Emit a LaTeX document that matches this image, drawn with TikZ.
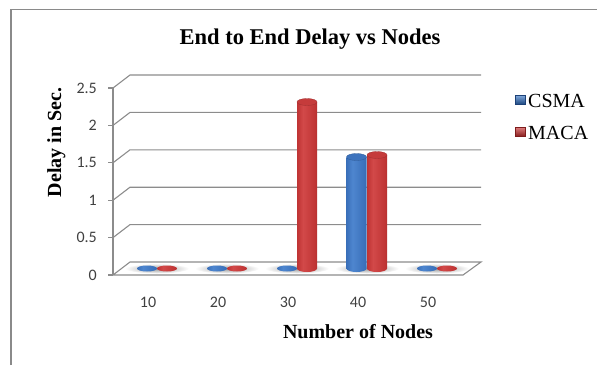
\documentclass[tikz,border=0pt]{standalone}
\usepackage{fontspec}
\setmainfont{Liberation Serif}
\newfontfamily\tickfont{Carlito}

\definecolor{framegray}{HTML}{8A8A8A}
\definecolor{gridgray}{HTML}{8C8C8C}
\definecolor{ticktext}{HTML}{404040}
\definecolor{cbA}{HTML}{1F4A82}
\definecolor{cbB}{HTML}{3A70BA}
\definecolor{cbC}{HTML}{4E86CF}
\definecolor{cbD}{HTML}{1C4177}
\definecolor{crA}{HTML}{8A2020}
\definecolor{crB}{HTML}{BF3434}
\definecolor{crC}{HTML}{D24949}
\definecolor{crD}{HTML}{7E1C1C}
\definecolor{cbtop}{HTML}{3D73BD}
\definecolor{crtop}{HTML}{C53B3B}

\pgfdeclarehorizontalshading{bluecyl}{100bp}{color(0bp)=(cbA); color(25bp)=(cbB); color(40bp)=(cbC); color(70bp)=(cbB); color(100bp)=(cbD)}
\pgfdeclarehorizontalshading{redcyl}{100bp}{color(0bp)=(crA); color(25bp)=(crB); color(40bp)=(crC); color(70bp)=(crB); color(100bp)=(crD)}

% cylinder bar: centre x, top y, shading, top colour
\newcommand\barcyl[4]{%
  \shade[shading=#3] (#1-10,#2) -- (#1-10,268.5)
    arc[start angle=180,end angle=0,x radius=10,y radius=3.5] -- (#1+10,#2) -- cycle;
  \fill[#4] (#1,#2) ellipse [x radius=10,y radius=3.5];
  \draw[#4!80!black,line width=0.3pt] (#1,#2) ellipse [x radius=10,y radius=3.5];}
% flat disc for a zero value
\newcommand\flatdisc[2]{%
  \shade[shading=#2] (#1,268.5) ellipse [x radius=10,y radius=3];}
% soft floor shadow under a pair of bars
\newcommand\floorshadow[1]{%
  \shade[inner color=black!40,outer color=white] (#1,268.5) ellipse [x radius=32,y radius=5];}

\begin{document}
\begin{tikzpicture}[x=1pt,y=-1pt,
  grid/.style={draw=gridgray,line width=1.1pt},
  ticklab/.style={font=\tickfont\fontsize{16}{16}\selectfont,text=ticktext,inner sep=0pt},
  axtitle/.style={font=\bfseries\fontsize{20}{20}\selectfont,inner sep=0pt},
  legtext/.style={font=\fontsize{20}{20}\selectfont,inner sep=0pt,anchor=base west}]
\useasboundingbox (0,0) rectangle (597,365);

% chart frame (left and top edges)
\draw[framegray,line width=1.1pt] (11,365) -- (11,9.5) -- (597,9.5);

% title
\node[font=\bfseries\fontsize{22.5}{22.5}\selectfont,inner sep=0pt,anchor=base] (title) at (310,44) {End to End Delay vs Nodes};

% back wall gridlines and ticks
\foreach \v/\lab in {0.5/0.5,1/1,1.5/1.5,2/2,2.5/2.5}{
  \pgfmathsetmacro\yy{275-74.8*\v}
  \draw[grid] (113,\yy) -- (130,\yy-13) -- (481,\yy-13);
  \draw[grid] (108,\yy) -- (113,\yy);
  \node[ticklab,anchor=east] (ytick\lab) at (97,\yy) {\lab};
}
\draw[grid] (108,275) -- (113,275);
\node[ticklab,anchor=east] (ytick0) at (97,275) {0};

% floor
\draw[grid,line join=miter] (113,275) -- (463,275) -- (481,262) -- (130,262) -- cycle;
% vertical axis
\draw[grid] (113,88) -- (113,275);

% category labels
\foreach \c [count=\i] in {10,20,30,40,50}{
  \node[ticklab] (xtick\c) at (78+70*\i,302) {\c};
}

% shadows on the floor
\foreach \i in {1,...,5}{ \floorshadow{87+70*\i} }

% data: CSMA (blue) and MACA (red)
\flatdisc{147}{bluecyl}\flatdisc{167}{redcyl}
\flatdisc{217}{bluecyl}\flatdisc{237}{redcyl}
\flatdisc{287}{bluecyl}
\barcyl{307}{102}{redcyl}{crtop}
\barcyl{356.5}{157}{bluecyl}{cbtop}
\barcyl{377}{155}{redcyl}{crtop}
\flatdisc{427}{bluecyl}\flatdisc{447}{redcyl}

% axis titles
\node[axtitle,rotate=90,anchor=base] (ytitle) at (61,142.5) {Delay in Sec.};
\node[axtitle,anchor=base] (xtitle) at (358,338) {Number of Nodes};

% legend
\shade[top color=cbC!70!white,bottom color=cbA,draw=cbD,line width=0.3pt] (515,95) rectangle (525,104);
\node[legtext] (legcsma) at (528,107) {CSMA};
\shade[top color=crC!70!white,bottom color=crA,draw=crD,line width=0.3pt] (515,127) rectangle (525,136);
\node[legtext] (legmaca) at (528,139) {MACA};
\end{tikzpicture}
\end{document}
